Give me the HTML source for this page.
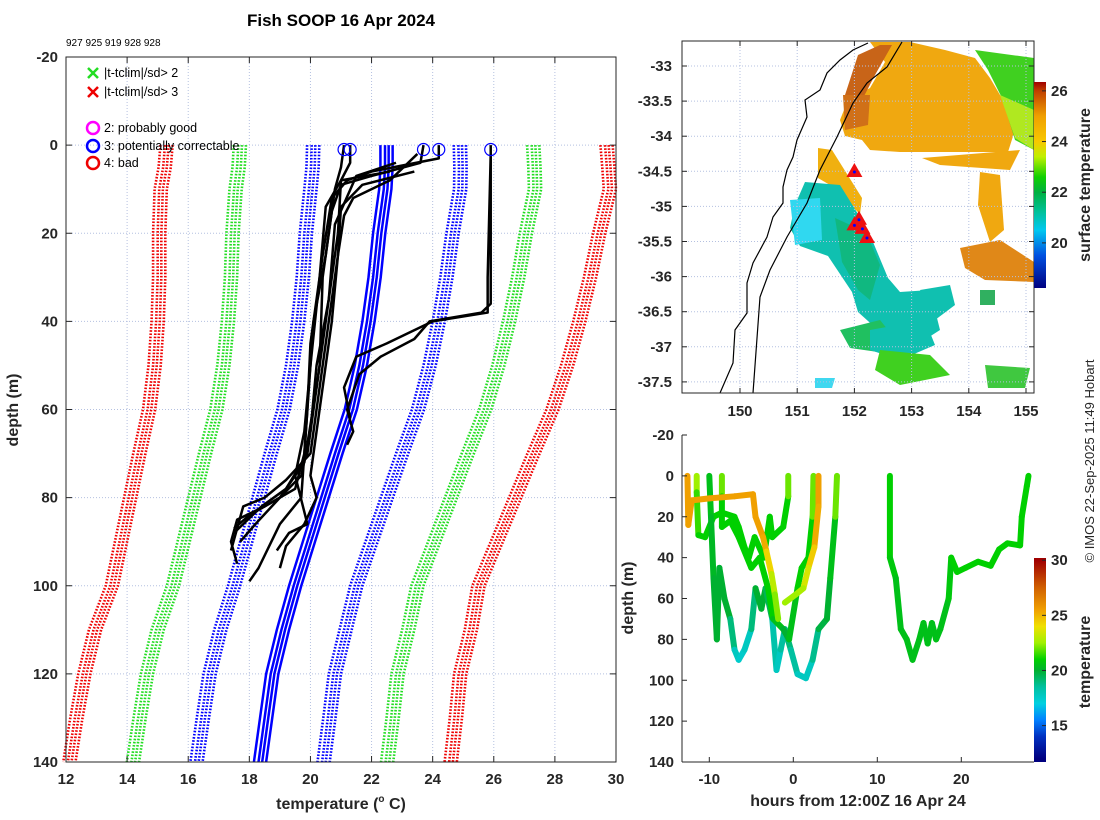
<!DOCTYPE html>
<html><head><meta charset="utf-8">
<style>
body{margin:0;background:#fff;}
svg{display:block;font-family:"Liberation Sans","DejaVu Sans",sans-serif;}
.tk{font-size:15px;font-weight:bold;fill:#262626;}
.lab{font-size:16px;font-weight:bold;fill:#262626;}
</style></head>
<body>
<svg id="fig" width="1100" height="820" viewBox="0 0 1100 820">
<rect width="1100" height="820" fill="#fff"/>
<text x="341" y="26" text-anchor="middle" font-size="17" font-weight="bold" fill="#000">Fish SOOP 16 Apr 2024</text>
<text x="66" y="46" font-size="10" fill="#000">927 925 919 928 928</text>
<g id="left"></g>
<g id="map"></g>
<g id="sect"></g>
<text transform="translate(1094,461) rotate(-90)" text-anchor="middle" font-size="13" fill="#262626">© IMOS 22-Sep-2025 11:49 Hobart</text>
</svg>
<script>
const NS="http://www.w3.org/2000/svg";
function mk(p,t,a){const e=document.createElementNS(NS,t);for(const k in a)e.setAttribute(k,a[k]);p.appendChild(e);return e;}

// ===== Left panel data =====
const climDepths=[0,5,10,20,30,40,50,60,70,80,90,100,110,120,130,140];
const climMean=[22.44,22.44,22.4,22.2,22.05,21.85,21.6,21.27,20.8,20.35,19.9,19.45,19.05,18.7,18.5,18.3];
const climSd=[2.4,2.42,2.45,2.4,2.35,2.3,2.25,2.2,2.15,2.1,2.05,2.0,2.05,2.05,2.07,2.08];
const climShifts=[-0.15,0,0.12,0.25];
const sdLevels=[1,2,3];
const sdColors=["#0000ff","#22dd22","#ee0000"];
const xTicksL=[12,14,16,18,20,22,24,26,28,30];
const yTicksL=[-20,0,20,40,60,80,100,120,140];
const profiles=[
 [[21.1,0],[21.0,5],[20.8,10],[20.5,25],[20.1,40],[19.9,60],[19.8,70],[19.5,78],[18.5,82],[17.6,85],[17.4,90],[17.6,95]],
 [[21.3,0],[21.3,4],[21.0,8],[20.9,20],[20.6,35],[20.2,50],[20.0,65],[19.7,75],[19.0,80],[18.2,86],[17.7,90]],
 [[23.7,0],[23.6,4],[22.0,7],[21.0,9],[20.7,15],[20.4,30],[20.3,50],[19.9,70],[19.2,78],[18.4,82],[17.5,88]],
 [[24.2,0],[24.2,3],[22.0,6],[21.2,8],[20.7,12],[20.4,25],[20.0,45],[19.9,60],[19.7,80],[19.0,86],[18.3,96],[18.0,99]],
 [[23.5,2],[22.6,8],[21.4,12],[21.1,16],[20.9,25],[20.6,40],[20.3,55],[20.0,70],[19.2,76],[18.5,80],[17.8,82],[17.4,92]],
 [[22.6,6],[21.0,8],[20.5,14],[20.3,30],[20.0,50],[19.8,65],[19.5,75],[19.9,86],[19.3,88],[18.9,92]],
 [[23.4,6],[21.7,9],[21.0,14],[20.9,25],[20.7,40],[20.3,60],[20.0,75],[20.2,80],[19.8,86],[19.2,91],[19.0,96]],
 [[22.8,4],[21.5,7],[20.8,18],[20.6,35],[20.2,55],[19.8,72],[19.0,80],[18.0,84],[17.5,87]],
 [[25.9,0],[25.9,10],[25.9,36],[25.6,38],[23.9,40],[23.4,44],[22.3,48],[21.6,52],[21.2,60],[21.4,65],[21.2,68]],
 [[25.9,2],[25.8,30],[25.8,38],[24.0,40],[22.5,45],[21.5,48],[21.1,55],[21.3,62]]
];
const flagTemps=[21.1,21.3,23.7,24.2,25.9];
const flagDepths=[1,1,1,1,1];

const L={x0:66,x1:616,y0:57,y1:762};
const lx=t=>L.x0+(t-12)/(30-12)*(L.x1-L.x0);
const ly=d=>L.y0+(d+20)/(160)*(L.y1-L.y0);
const gL=document.getElementById('left');
xTicksL.slice(1,-1).forEach(t=>{const e=mk(gL,'line',{x1:lx(t),x2:lx(t),y1:L.y0,y2:L.y1,stroke:'#b4c0e0','stroke-dasharray':'1,2'});

});
yTicksL.slice(1,-1).forEach(d=>{const e=mk(gL,'line',{x1:L.x0,x2:L.x1,y1:ly(d),y2:ly(d),stroke:'#b4c0e0','stroke-dasharray':'1,2'});

});
climShifts.forEach(s=>{
 sdLevels.forEach((k,ki)=>{[-1,1].forEach(sign=>{
  const pts=climDepths.map((d,i)=>lx(climMean[i]+s+sign*k*climSd[i])+','+ly(d)).join(' ');
  const e=mk(gL,'polyline',{points:pts,fill:'none',stroke:sdColors[ki],'stroke-width':2.6,'stroke-dasharray':'1.6,1.6'});
  
  
 });});
 const pts=climDepths.map((d,i)=>lx(climMean[i]+s)+','+ly(d)).join(' ');
 const e=mk(gL,'polyline',{points:pts,fill:'none',stroke:'#0000ff','stroke-width':2.5});
 
 
});
profiles.forEach(p=>{
 const e=mk(gL,'polyline',{points:p.map(q=>lx(q[0])+','+ly(q[1])).join(' '),fill:'none',stroke:'#000','stroke-width':2.5,'stroke-linejoin':'round'});
 
 
});
flagTemps.forEach((t,i)=>{
 const e=mk(gL,'circle',{cx:lx(t),cy:ly(flagDepths[i]),r:6,fill:'none',stroke:'#0000ff','stroke-width':1.2});
 
 
});
{const e=mk(gL,'rect',{x:L.x0,y:L.y0,width:L.x1-L.x0,height:L.y1-L.y0,fill:'none',stroke:'#262626','stroke-width':1});

}
xTicksL.forEach(t=>{mk(gL,'line',{x1:lx(t),x2:lx(t),y1:L.y1,y2:L.y1-6,stroke:'#262626'});mk(gL,'line',{x1:lx(t),x2:lx(t),y1:L.y0,y2:L.y0+6,stroke:'#262626'});
 const e=mk(gL,'text',{x:lx(t),y:L.y1+22,'text-anchor':'middle',class:'tk'});e.textContent=t;
 
 });
yTicksL.forEach(d=>{mk(gL,'line',{x1:L.x0,x2:L.x0+6,y1:ly(d),y2:ly(d),stroke:'#262626'});mk(gL,'line',{x1:L.x1,x2:L.x1-6,y1:ly(d),y2:ly(d),stroke:'#262626'});
 const e=mk(gL,'text',{x:L.x0-8,y:ly(d)+5,'text-anchor':'end',class:'tk'});e.textContent=d;
 
 });
{const e=mk(gL,'text',{x:341,y:809,'text-anchor':'middle',class:'lab'});e.innerHTML='temperature (<tspan font-size="10" dy="-7">o</tspan><tspan dy="7"> C)</tspan>';

}
{const e=mk(gL,'text',{transform:'translate(18,410) rotate(-90)','text-anchor':'middle',class:'lab'});e.textContent='depth (m)';

}
const legItems=[['x','#22dd22','|t-tclim|/sd> 2',73],['x','#ee0000','|t-tclim|/sd> 3',92],['o','#ff00ff','2: probably good',128],['o','#0000ff','3: potentially correctable',146],['o','#ee0000','4: bad',163]];
legItems.forEach(it=>{
 const g=mk(gL,'g',{});
 
 
 if(it[0]==='x'){mk(g,'path',{d:`M88 ${it[3]-5}l10 10M98 ${it[3]-5}l-10 10`,stroke:it[1],'stroke-width':2.5});}
 else mk(g,'circle',{cx:93,cy:it[3],r:6,fill:'none',stroke:it[1],'stroke-width':2.5});
 const t=mk(g,'text',{x:104,y:it[3]+4,'font-size':12.5,fill:'#000'});t.textContent=it[2];
});

// ===== Map =====
const M={x0:682,x1:1034,y0:41,y1:393};
const mx=lon=>740+(lon-150)*57.2;
const my=lat=>66+(-33-lat)*70.2;
const lonTicks=[150,151,152,153,154,155];
const latTicks=[-33,-33.5,-34,-34.5,-35,-35.5,-36,-36.5,-37,-37.5];
const gM=document.getElementById('map');
mk(gM,'rect',{x:M.x0,y:M.y0,width:352,height:352,fill:'#fff'});
const blobs=[
 ['#f0a810','870,42 910,42 945,50 975,58 990,78 1003,100 1015,130 1008,152 900,152 870,150 862,140 845,136 840,120 848,100 870,88 885,62'],
 ['#c86418','858,55 880,45 892,45 875,75 862,100 848,110 845,95'],
 ['#d07018','843,95 870,95 868,125 845,130'],
 ['#40d020','975,50 1034,58 1034,150 1015,140 1002,98 988,70'],
 ['#b0e820','1000,95 1034,110 1034,150 1015,138'],
 ['#f0a810','980,172 1000,175 1004,230 990,242 978,205'],
 ['#e08818','960,248 1000,240 1034,262 1034,282 985,280 965,268'],
 ['#f0b010','818,148 832,150 862,198 860,214 830,185 818,178'],
 ['#f0a810','922,158 1020,150 1010,170 940,165'],
 ['#10c0b0','805,182 840,185 868,230 888,278 900,292 930,290 940,330 915,346 895,340 878,330 858,312 852,292 828,256 800,246 790,228 795,205'],
 ['#30d8f0','790,200 820,198 822,240 795,245'],
 ['#10b880','835,218 866,232 880,265 870,300 858,290 842,262'],
 ['#20c060','840,330 880,320 900,345 878,352 850,348'],
 ['#10c0b0','870,330 925,320 935,345 900,360 870,350'],
 ['#40d020','880,350 930,355 950,375 900,385 875,370'],
 ['#10c0b0','920,290 950,285 955,305 935,320'],
 ['#30b060','980,290 995,290 995,305 980,305'],
 ['#40c840','985,365 1030,368 1025,388 988,388'],
 ['#40d8f0','815,378 835,378 832,388 815,388']
];
blobs.forEach(b=>{const e=mk(gM,'polygon',{points:b[1],fill:b[0]});
 
 });
lonTicks.forEach(l=>{const e=mk(gM,'line',{x1:mx(l),x2:mx(l),y1:M.y0,y2:M.y1,stroke:'#b4c0e0','stroke-dasharray':'1,2'});
 
 });
latTicks.forEach(l=>{const e=mk(gM,'line',{x1:M.x0,x2:M.x1,y1:my(l),y2:my(l),stroke:'#b4c0e0','stroke-dasharray':'1,2'});
 
 });
{const e=mk(gM,'polyline',{points:'868,43 853,50 840,60 827,73 820,90 805,100 807,117 797,140 793,157 787,170 783,187 783,203 773,217 767,237 753,263 747,283 747,313 735,330 733,363 720,393',fill:'none',stroke:'#000','stroke-width':1.2});

}
{const e=mk(gM,'polyline',{points:'902,42 887,67 867,83 853,103 837,137 820,170 807,203 787,237 770,270 760,297 753,393',fill:'none',stroke:'#000','stroke-width':1.2});

}
const dropLon=[152.0,152.08,152.0,152.14,152.22];
const dropLat=[-34.51,-35.19,-35.27,-35.32,-35.45];
dropLon.forEach((lo,i)=>{const x=mx(lo),y=my(dropLat[i]);
 const e=mk(gM,'polygon',{points:`${x},${y-9} ${x-8},${y+5} ${x+8},${y+5}`,fill:'#ee1010'});
 
 
 mk(gM,'circle',{cx:x,cy:y,r:1.5,fill:'#0000ff'});});
mk(gM,'rect',{x:M.x0,y:M.y0,width:352,height:352,fill:'none',stroke:'#262626'});
lonTicks.forEach(l=>{mk(gM,'line',{x1:mx(l),x2:mx(l),y1:M.y1,y2:M.y1-5,stroke:'#262626'});mk(gM,'line',{x1:mx(l),x2:mx(l),y1:M.y0,y2:M.y0+5,stroke:'#262626'});
 const e=mk(gM,'text',{x:mx(l),y:M.y1+23,'text-anchor':'middle',class:'tk'});e.textContent=l;
 
 });
latTicks.forEach(l=>{mk(gM,'line',{x1:M.x0,x2:M.x0+5,y1:my(l),y2:my(l),stroke:'#262626'});mk(gM,'line',{x1:M.x1,x2:M.x1-5,y1:my(l),y2:my(l),stroke:'#262626'});
 const e=mk(gM,'text',{x:M.x0-10,y:my(l)+5,'text-anchor':'end',class:'tk'});e.textContent=l;
 
 });
const sstStops=[[18.2,'#000080'],[19.5,'#0050e0'],[20.5,'#00c8f0'],[21.3,'#00c090'],[22,'#00b040'],[22.6,'#10d000'],[23.4,'#c0f000'],[24,'#f8c800'],[25,'#f0a000'],[26,'#c04000'],[26.4,'#a00000']];
const sstTicks=[20,22,24,26];
function cbar(g,x,y0,y1,lo,hi,stops,ticks,title,ty,nm){
 const id='gr'+nm;const defs=mk(g,'defs',{});const gr=mk(defs,'linearGradient',{id:id,x1:0,y1:1,x2:0,y2:0});
 stops.forEach(s=>mk(gr,'stop',{offset:(s[0]-lo)/(hi-lo),'stop-color':s[1]}));
 const r=mk(g,'rect',{x:x,y:y0,width:12,height:y1-y0,fill:`url(#${id})`});
 
 
 ticks.forEach(t=>{const y=y1-(t-lo)/(hi-lo)*(y1-y0);mk(g,'line',{x1:x+12,x2:x+8,y1:y,y2:y,stroke:'#262626'});
  const e=mk(g,'text',{x:x+17,y:y+5,class:'tk'});e.textContent=t;
  
  });
 const e=mk(g,'text',{transform:`translate(1090,${ty}) rotate(-90)`,'text-anchor':'middle',class:'lab'});e.textContent=title;
 
 
}
cbar(gM,1034,82,288,18.22,26.35,sstStops,sstTicks,'surface temperature',185,'sst');

// ===== Depth-time section =====
const S={x0:682,x1:1034,y0:435,y1:762};
const sx=h=>793.3+h*8.4;
const sy=d=>S.y0+(d+20)/160*(S.y1-S.y0);
const hTicks=[-10,0,10,20];
const dTicks=[-20,0,20,40,60,80,100,120,140];
const tracks=[
 [[-11.5,0,23],[-11.5,8,22],[-11.3,29,21],[-10.5,30,21],[-9.5,20,21],[-8.5,18,21],[-7,20,21],[-6.5,25,21],[-5.8,35,21],[-5.3,40,21],[-4.6,30,21],[-3.5,40,21],[-2.8,20,21],[-2.5,30,21],[-1.2,25,21],[-0.6,10,21],[-0.6,0,23]],
 [[-10,0,20.5],[-9.8,20,20.5],[-9.5,50,20],[-9.1,80,20],[-8.8,45,20],[-8.2,60,20],[-7.5,70,20],[-7,85,18],[-6.5,90,17.5],[-5.8,85,17.5],[-5,75,18],[-4.5,55,20],[-3.8,65,20],[-3.3,55,20],[-2.5,70,19],[-2,95,17.5],[-1.5,85,18],[-1,75,19],[-0.3,85,19],[0.5,97,18],[1.5,99,17.5],[2.3,90,18],[3,75,19.5],[4,70,20],[4.4,50,20],[5,20,21],[5.2,0,23]],
 [[-8.5,0,23],[-8.5,10,21],[-8.5,25,21],[-7.5,22,21],[-6.5,30,21],[-5,45,21],[-4,40,21],[-3,55,21],[-2.4,70,21],[-1.2,75,20],[-0.5,80,20],[0.5,55,21],[1.0,45,21],[1.8,40,21],[2.3,20,21],[2.4,0,23]],
 [[-12.6,0,25.5],[-12.5,24,25.5],[-12.1,12,25.5],[-10,11,25.5],[-7,10,25.5],[-4.8,9,25.5],[-4.5,20,25.5],[-3.6,30,25.5],[-3.2,37,25],[-2.6,48,23.5],[-2.2,58,22.5],[-1.8,70,22]],
 [[3.0,0,25.5],[3.0,15,25.5],[2.5,35,25],[1.8,45,24],[1.2,55,23],[0.3,58,22.5],[-1,62,22.5]],
 [[11.5,0,21],[11.5,40,21],[12.2,50,20.5],[12.8,75,20.5],[13.5,80,20.5],[14.2,90,20.5],[15,80,20.5],[15.5,72,20.5],[16,82,20.5],[16.5,72,20.5],[17,80,20.5],[17.5,75,20.5],[18.5,60,20.5],[18.8,40,21],[19.5,47,21],[20.5,45,21],[22,42,21],[23.5,44,21],[24.5,36,21],[25.5,33,21],[27,34,21],[27.2,20,21],[27.8,5,21],[28,0,21]]
];
const tStops=[[12,'#00007f'],[14,'#0030c0'],[15.5,'#0080ff'],[17,'#00d0e0'],[18.5,'#00c0a0'],[20,'#00b030'],[21,'#00d000'],[22.5,'#a0f000'],[24,'#f0e000'],[25.5,'#f0a000'],[27.5,'#d06000'],[30,'#a00000']];
const tTicks=[15,20,25,30];
function hex(c){return [1,3,5].map(i=>parseInt(c.substr(i,2),16));}
function cmap(t){for(let i=1;i<tStops.length;i++){if(t<=tStops[i][0]){const a=tStops[i-1],b=tStops[i];const f=Math.max(0,(t-a[0])/(b[0]-a[0]));const A=hex(a[1]),B=hex(b[1]);return `rgb(${A.map((v,j)=>Math.round(v+(B[j]-v)*f)).join(',')})`;}}return tStops[tStops.length-1][1];}
const gS=document.getElementById('sect');
tracks.forEach(tr=>{
 const g=mk(gS,'g',{});
 
 
 for(let i=1;i<tr.length;i++){const a=tr[i-1],b=tr[i];
  mk(g,'line',{x1:sx(a[0]),y1:sy(a[1]),x2:sx(b[0]),y2:sy(b[1]),stroke:cmap((a[2]+b[2])/2),'stroke-width':6,'stroke-linecap':'round'});}
});
mk(gS,'line',{x1:S.x0,x2:S.x0,y1:S.y0,y2:S.y1,stroke:'#262626'});
mk(gS,'line',{x1:S.x0,x2:1034,y1:S.y1,y2:S.y1,stroke:'#262626'});
hTicks.forEach(h=>{mk(gS,'line',{x1:sx(h),x2:sx(h),y1:S.y1,y2:S.y1-5,stroke:'#262626'});
 const e=mk(gS,'text',{x:sx(h),y:S.y1+22,'text-anchor':'middle',class:'tk'});e.textContent=h;
 
 });
dTicks.forEach(d=>{mk(gS,'line',{x1:S.x0,x2:S.x0+5,y1:sy(d),y2:sy(d),stroke:'#262626'});
 const e=mk(gS,'text',{x:S.x0-8,y:sy(d)+5,'text-anchor':'end',class:'tk'});e.textContent=d;
 
 });
{const e=mk(gS,'text',{x:858,y:806,'text-anchor':'middle',class:'lab'});e.textContent='hours from 12:00Z 16 Apr 24';

}
{const e=mk(gS,'text',{transform:'translate(633,598) rotate(-90)','text-anchor':'middle',class:'lab'});e.textContent='depth (m)';

}
cbar(gS,1034,558,762,11.7,30.2,tStops,tTicks,'temperature',662,'temp');
</script>
</body></html>
